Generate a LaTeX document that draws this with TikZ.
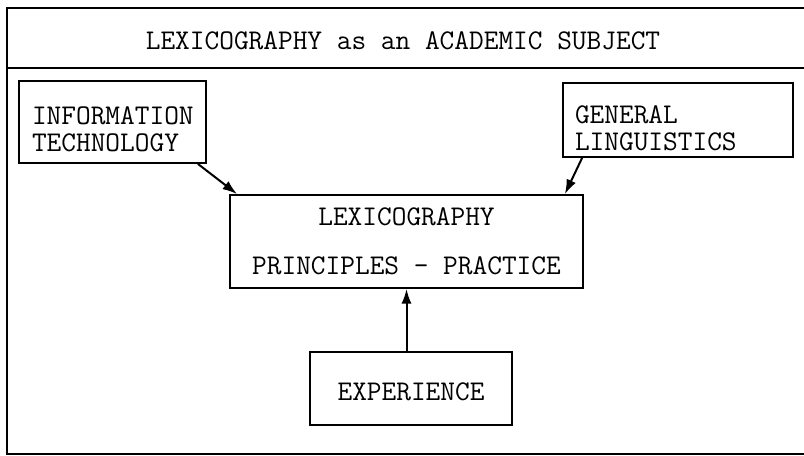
\documentclass[tikz,border=0pt]{standalone}
\usepackage{fontspec}
\usetikzlibrary{positioning, arrows.meta}

\begin{document}
\begin{tikzpicture}[x=0.75pt, y=-0.75pt, line width=1.3pt,
        box/.style={draw, rectangle, inner sep=0pt, font=\ttfamily\fontsize{21.4}{20}\selectfont},
        arr/.style={line width=1.5pt, -{Latex[length=11pt,width=7.5pt]}}]
        \useasboundingbox (0,0) rectangle (804,455);
        %\draw[help lines] (0,0) grid (804,455);
        \draw (804,8) -- (7,8) -- (7,454) -- (804,454);
        \draw (7,68) -- (804,68);
        \node[font=\ttfamily\fontsize{21.4}{20}\selectfont] (title) at (403,41) {LEXICOGRAPHY as an ACADEMIC SUBJECT};

        \node[box, minimum width=140.25pt, minimum height=61.5pt, text width=120.75pt, text height=24pt, align=left] (info) at (112.5,122) {INFORMATION\\TECHNOLOGY};
        \node[box, minimum width=172.5pt, minimum height=55.5pt, text width=154.5pt, text height=26pt, align=left] (ling) at (678,120) {GENERAL\\LINGUISTICS};
        \node[box, minimum width=264.75pt, minimum height=69.75pt, align=center] (lex) at (406.5,241.5) {LEXICOGRAPHY\\[16.75pt]PRINCIPLES - PRACTICE};
        \node[box, minimum width=151.5pt, minimum height=54.75pt, text height=19pt] (exp) [below=46.5pt of lex, xshift=3.4pt] {EXPERIENCE};

        \draw[arr] ([xshift=-6.75pt]info.south east) -- ([xshift=6pt]lex.north west);
        \draw[arr] ([xshift=15pt]ling.south west) -- ([xshift=-14.25pt]lex.north east);
        \draw[arr] (exp.north -| lex.south) -- (lex.south);
    \end{tikzpicture}
\end{document}
